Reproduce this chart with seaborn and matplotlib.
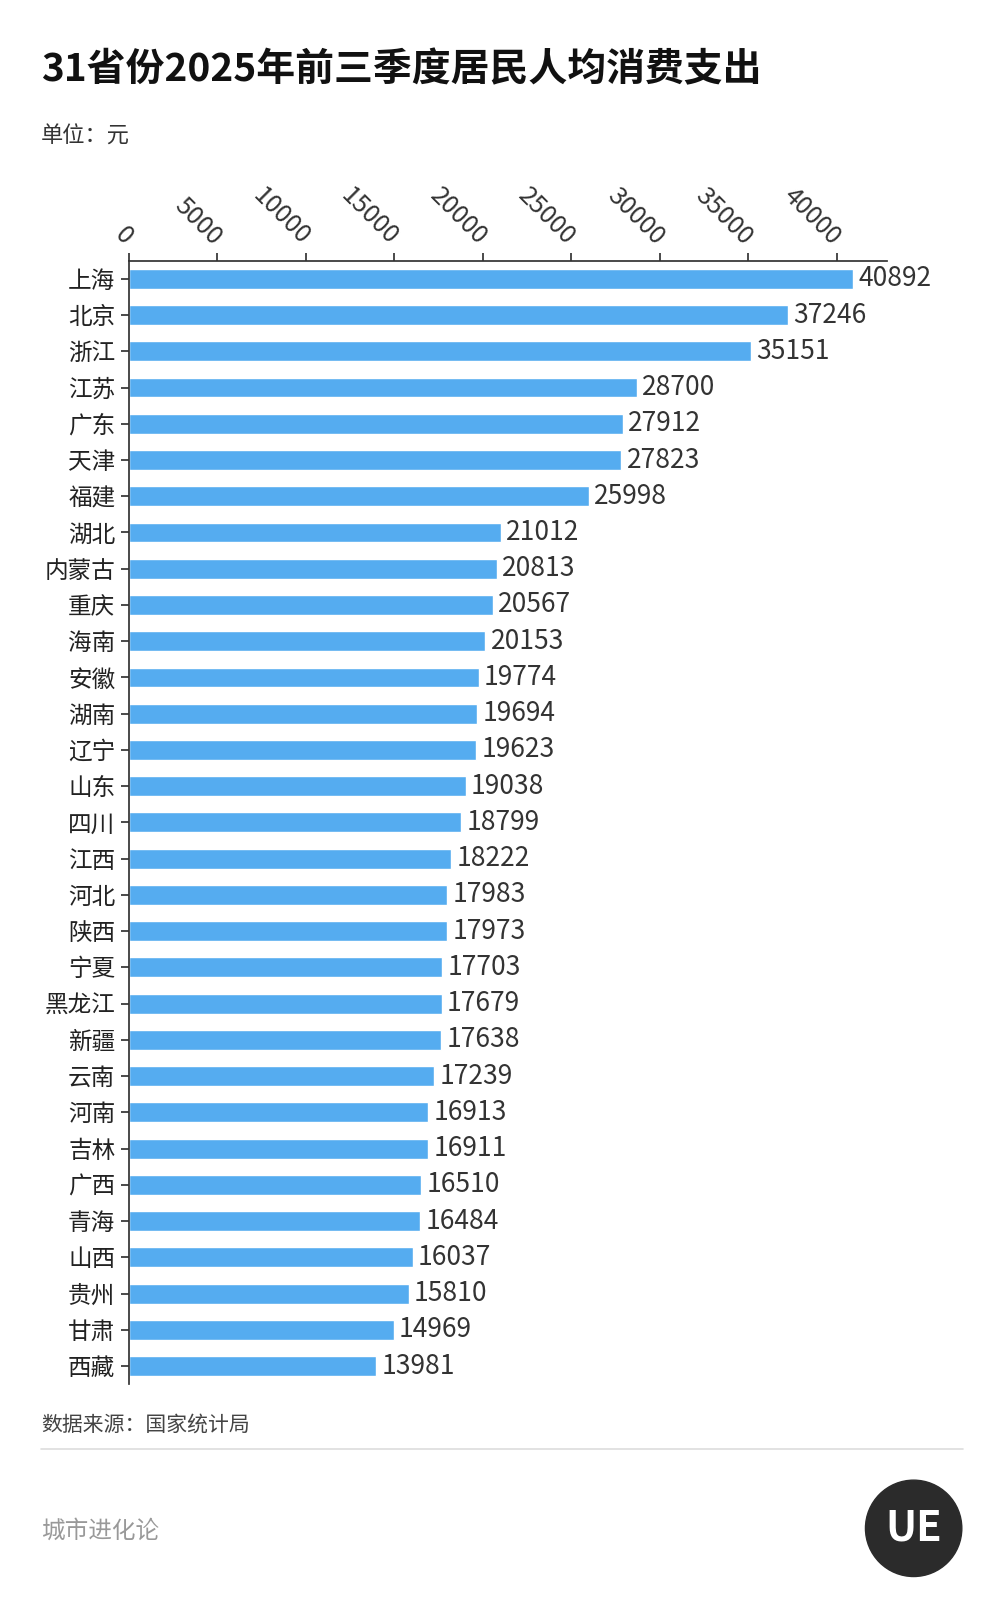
import matplotlib
matplotlib.use('Agg')
import matplotlib.pyplot as plt
import seaborn as sns
import pandas as pd

provinces = ['上海', '北京', '浙江', '江苏', '广东', '天津', '福建', '湖北', '内蒙古', '重庆',
             '海南', '安徽', '湖南', '辽宁', '山东', '四川', '江西', '河北', '陕西', '宁夏',
             '黑龙江', '新疆', '云南', '河南', '吉林', '广西', '青海', '山西', '贵州', '甘肃', '西藏']
spending = [40892, 37246, 35151, 28700, 27912, 27823, 25998, 21012, 20813, 20567,
            20153, 19774, 19694, 19623, 19038, 18799, 18222, 17983, 17973, 17703,
            17679, 17638, 17239, 16913, 16911, 16510, 16484, 16037, 15810, 14969, 13981]
ticks = [0, 5000, 10000, 15000, 20000, 25000, 30000, 35000, 40000]

df = pd.DataFrame({'province': provinces, 'value': spending})

sns.set_theme(style='white')
plt.rcParams['font.family'] = ['Noto Sans CJK SC', 'DejaVu Sans']

fig = plt.figure(figsize=(10.04, 16.19), dpi=100)
ax = fig.add_axes([0.128, 0.145, 0.755, 0.694])

sns.barplot(data=df, x='value', y='province', color='#55acf0', saturation=1,
            width=0.55, ax=ax)
for i, v in enumerate(spending):
    ax.text(v + 300, i, str(v), va='center', ha='left', fontsize=19, color='#333333')

ax.set_xlim(0, 42800)
ax.set_ylim(len(provinces) - 0.5, -0.5)
ax.xaxis.tick_top()
ax.set_xticks(ticks)
ax.set_xticklabels([str(t) for t in ticks], rotation=-45, ha='right', va='center',
                   rotation_mode='anchor', fontsize=18, color='#333333')
ax.tick_params(axis='x', length=6, color='#333333', pad=8)
ax.tick_params(axis='y', length=6, color='#333333', labelsize=17, labelcolor='#222222', left=True)
ax.set_xlabel('')
ax.set_ylabel('')
for s in ['right', 'bottom']:
    ax.spines[s].set_visible(False)
ax.spines['top'].set_color('#333333')
ax.spines['left'].set_color('#333333')

fig.text(0.041, 0.957, '31省份2025年前三季度居民人均消费支出', fontsize=28, fontweight='bold',
         color='#111111', va='center')
fig.text(0.041, 0.916, '单位：元', fontsize=16, color='#333333', va='center')
fig.text(0.041, 0.12, '数据来源：国家统计局', fontsize=15, color='#444444', va='center')
fig.add_artist(plt.Line2D([0.041, 0.959], [0.105, 0.105], color='#dddddd', lw=1.2))
fig.text(0.041, 0.054, '城市进化论', fontsize=17, color='#999999', va='center')

# logo
logo = fig.add_axes([0.86, 0.025, 0.1, 0.062])
logo.add_patch(plt.Circle((0.5, 0.5), 0.48, color='#2b2b2b'))
logo.text(0.5, 0.5, 'UE', ha='center', va='center', fontsize=30, fontweight='bold', color='white')
logo.set_xlim(0, 1)
logo.set_ylim(0, 1)
logo.set_aspect('equal')
logo.axis('off')

fig.savefig('out.png', dpi=100, facecolor='white')
